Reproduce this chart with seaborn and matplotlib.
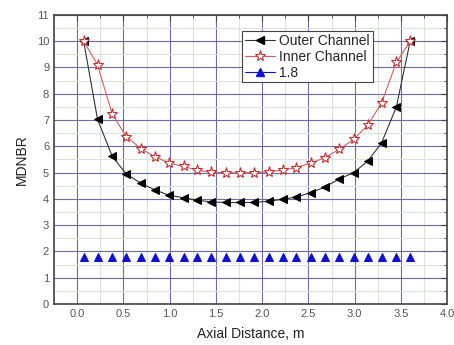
import numpy as np
import pandas as pd
import matplotlib
matplotlib.use('Agg')
import matplotlib.pyplot as plt
from matplotlib.lines import Line2D
from matplotlib.ticker import MultipleLocator
import seaborn as sns

# data
axial = [0.07, 0.22, 0.38, 0.53, 0.69, 0.84, 0.99, 1.15, 1.30, 1.45, 1.61, 1.76,
         1.91, 2.07, 2.22, 2.37, 2.53, 2.68, 2.83, 2.99, 3.14, 3.29, 3.45, 3.60]
outer = [10.0, 7.03, 5.61, 4.95, 4.59, 4.34, 4.14, 4.04, 3.95, 3.88, 3.86, 3.86,
         3.86, 3.91, 3.98, 4.07, 4.24, 4.45, 4.75, 5.00, 5.43, 6.12, 7.49, 10.0]
inner = [10.0, 9.10, 7.22, 6.37, 5.91, 5.60, 5.37, 5.23, 5.09, 5.01, 4.99, 4.99,
         4.99, 5.03, 5.09, 5.19, 5.36, 5.57, 5.88, 6.26, 6.80, 7.64, 9.19, 10.0]
limit = [1.8] * len(axial)
labels = ['Outer Channel', 'Inner Channel', '1.8']

df = pd.DataFrame({'x': axial, 'outer': outer, 'inner': inner, 'limit': limit})

sns.set_style('white')
plt.rcParams['font.family'] = ['Liberation Sans', 'DejaVu Sans']

fig = plt.figure(figsize=(4.54, 3.45), dpi=100)
ax = fig.add_axes([0.119, 0.119, 0.866, 0.838])

# grid first so it stays below the lines
ax.set_axisbelow(True)
ax.xaxis.set_major_locator(MultipleLocator(0.5))
ax.xaxis.set_minor_locator(MultipleLocator(0.25))
ax.yaxis.set_major_locator(MultipleLocator(1))
ax.yaxis.set_minor_locator(MultipleLocator(0.5))
ax.grid(True, which='minor', color='#d6e6d6', linewidth=0.8)
ax.grid(True, which='major', color='#6c6ca0', linewidth=0.8)

sns.lineplot(data=df, x='x', y='outer', ax=ax, color='#333333', linewidth=0.8,
             marker='<', markersize=6, markerfacecolor='black', markeredgecolor='black')
sns.lineplot(data=df, x='x', y='inner', ax=ax, color='#d06060', linewidth=0.8,
             marker='*', markersize=8, markerfacecolor='white', markeredgecolor='#c03030',
             markeredgewidth=0.8)
sns.lineplot(data=df, x='x', y='limit', ax=ax, color='#1010d0', linestyle='none',
             marker='^', markersize=6, markerfacecolor='#1010d0', markeredgecolor='#1010d0')

ax.set_xlim(-0.25, 4.0)
ax.set_ylim(0, 11)
ax.set_xlabel('Axial Distance, m', fontsize=10, color='#222222', labelpad=6)
ax.set_ylabel('MDNBR', fontsize=10, color='#222222', labelpad=6)

ax.tick_params(which='both', direction='in', top=True, right=True,
               labelsize=8, labelcolor='#555555', color='#444444')
ax.tick_params(which='major', length=4)
ax.tick_params(which='minor', length=2)
for s in ax.spines.values():
    s.set_color('#444444')
    s.set_linewidth(1.2)

handles = [
    Line2D([], [], color='#333333', linewidth=0.8, marker='<', markersize=6,
           markerfacecolor='black', markeredgecolor='black'),
    Line2D([], [], color='#d06060', linewidth=0.8, marker='*', markersize=8,
           markerfacecolor='white', markeredgecolor='#c03030', markeredgewidth=0.8),
    Line2D([], [], color='#1010d0', linewidth=0.8, marker='^', markersize=6,
           markerfacecolor='#1010d0', markeredgecolor='#1010d0'),
]
leg = ax.legend(handles, labels, loc='upper left', bbox_to_anchor=(0.478, 0.945),
                fontsize=10, frameon=True, fancybox=False, framealpha=1,
                edgecolor='#444444', borderpad=0.2, labelspacing=0.15,
                handlelength=2.2, handletextpad=0.3, borderaxespad=0)
leg.get_frame().set_linewidth(0.8)

fig.savefig('out.png', dpi=100)
